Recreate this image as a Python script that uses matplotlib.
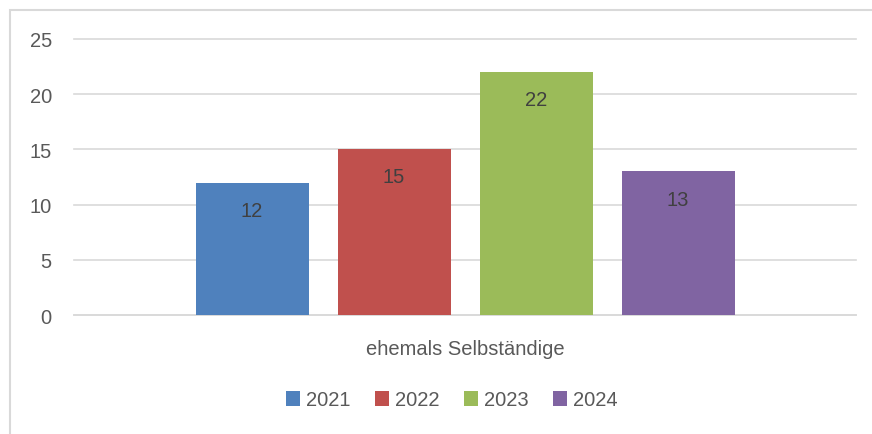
import matplotlib
matplotlib.use('Agg')
import matplotlib.pyplot as plt
from matplotlib.patches import Rectangle

# Daten
category = 'ehemals Selbständige'
years = ['2021', '2022', '2023', '2024']
values = [12, 15, 22, 13]
colors = ['#4f81bd', '#c0504d', '#9bbb59', '#8064a2']

W, H = 872, 435
text_color = '#595959'
plt.rcParams['font.family'] = ['Liberation Sans', 'DejaVu Sans']


def main():
    fig = plt.figure(figsize=(W / 100, H / 100), dpi=100)
    ax = fig.add_axes([74 / W, 1 - 316 / H, (856 - 74) / W, (316 - 40) / H])

    # Rahmen um das Diagramm
    fig.patches.append(Rectangle((9.5 / W, -0.1), 1.2, 1.1 - 10.5 / H,
                                 transform=fig.transFigure, fill=False,
                                 edgecolor='#d9d9d9', linewidth=1.5))

    spacing = 142 / 782
    width = 113 / 782
    n = len(years)
    for i, (yr, v, c) in enumerate(zip(years, values, colors)):
        x = (i - (n - 1) / 2) * spacing
        ax.bar(x, v, width=width, color=c, label=yr, zorder=3)
        ax.text(x, v - 2.5, str(v), ha='center', va='center',
                fontsize=14.5, color='#404040', zorder=4)

    ax.set_xlim(-0.5, 0.5)
    ax.set_ylim(0, 25)
    ax.set_yticks([0, 5, 10, 15, 20, 25])
    ax.set_xticks([0])
    ax.set_xticklabels([category])
    ax.tick_params(axis='both', length=0, labelsize=14.5, labelcolor=text_color)
    ax.tick_params(axis='y', pad=16)
    ax.tick_params(axis='x', pad=17)
    ax.grid(axis='y', color='#d9d9d9', linewidth=1.2, zorder=0)
    for gl in ax.get_ygridlines():
        gl.set_clip_on(False)
    for s in ['top', 'right', 'left']:
        ax.spines[s].set_visible(False)
    ax.spines['bottom'].set_color('#d9d9d9')
    ax.spines['bottom'].set_linewidth(1.2)

    leg = fig.legend(loc='center', bbox_to_anchor=(452 / W, 1 - 401 / H),
                     ncol=4, frameon=False, fontsize=14.5, handlelength=0.7,
                     handleheight=0.7, handletextpad=0.3, columnspacing=1.2)
    for t in leg.get_texts():
        t.set_color(text_color)

    fig.savefig('out.png', dpi=100)


if __name__ == '__main__':
    main()
